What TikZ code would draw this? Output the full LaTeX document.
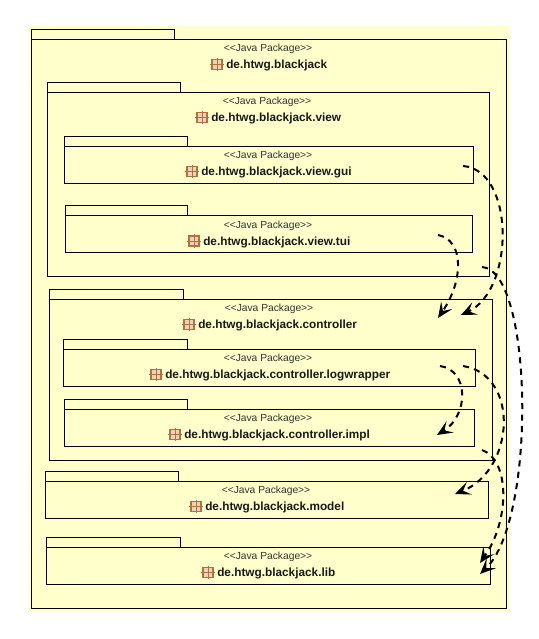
\documentclass[tikz,border=0pt]{standalone}
\usepackage{fontspec}
\setmainfont{Liberation Sans}
\usetikzlibrary{arrows.meta}
\definecolor{pkgyellow}{HTML}{FFFFCB}
\definecolor{iconfill}{HTML}{EAD2BC}
\definecolor{iconline}{HTML}{B5703C}
\tikzset{
  pkgbox/.style={draw=black,line width=0.75pt,inner sep=0pt,outer sep=0pt},
  pkgstereo/.style={inner sep=0pt,font=\fontsize{7.7}{9}\selectfont,text=black!80},
  pkglabel/.style={inner sep=0pt,anchor=mid west,font=\fontsize{8.85}{11}\selectfont\bfseries,text=black!90},
  pkgicon/.style={draw=iconline,line width=0.8pt,fill=iconfill,inner sep=0pt,minimum size=7.5pt},
  icongrid/.style={draw=iconline,line width=0.4pt,shorten >=-1pt,shorten <=-1pt},
  depends/.style={dashed,dash pattern=on 4.6pt off 4pt,line width=1.5pt,-{Stealth[inset=5pt,length=11.5pt,width=10pt]}}
}
\begin{document}
\begin{tikzpicture}[x=0.75pt,y=-0.75pt]
\useasboundingbox (0,0) rectangle (539,639);
\fill[pkgyellow] (28,26) rectangle (510,612);
\foreach \nm/\xa/\ya/\xb/\yb/\xt/\xs/\xl/\lab in {
  root/31/39/506.5/608/174/268/226/de.htwg.blackjack,
  view/47/92/489.5/276/180.5/267/211/de.htwg.blackjack.view,
  gui/64/146/473/183/187/268/201/de.htwg.blackjack.view.gui,
  tui/65.5/215.5/472.5/252/187/268/203/de.htwg.blackjack.view.tui,
  controller/49/299/492/460/183/269/198/de.htwg.blackjack.controller,
  logwrapper/63/349/475.5/386/187/268/165/de.htwg.blackjack.controller.logwrapper,
  impl/64/409/474.5/446/187.5/268/184/de.htwg.blackjack.controller.impl,
  model/45/481/488.5/518/178.5/266/205/de.htwg.blackjack.model,
  lib/46/547/490.5/584/180.5/268/217/de.htwg.blackjack.lib}
{
  \node[pkgbox,minimum width={(\xb-\xa)*0.75pt},minimum height={(\yb-\ya)*0.75pt}] (\nm) at ({(\xa+\xb)/2},{(\ya+\yb)/2}) {};
  \node[pkgbox,minimum width={(\xt-\xa)*0.75pt},minimum height=7.5pt] (\nm tab) at ({(\xa+\xt)/2},\ya-5) {};
  \node[pkgstereo] (\nm stereo) at (\xs,\ya+10) {<{}<Java Package>{}>};
  \node[pkglabel] (\nm label) at (\xl,\ya+26) {\lab};
  \node[pkgicon] (\nm icon) at (\xl-9,\ya+25.5) {};
  \draw[icongrid] (\nm icon.north) -- (\nm icon.south);
  \draw[icongrid] (\nm icon.west) -- (\nm icon.east);
}
% dependency ends
\coordinate (guiout) at (463,166);
\coordinate (tuiout) at (438,235);
\coordinate (viewout) at (482,267);
\coordinate (logout) at (463,366);
\coordinate (logimpl) at (440,366);
\coordinate (ctrlout) at (482,450);
\coordinate (ctrlin) at (438,318);
\coordinate (ctrlinb) at (461,315);
\coordinate (implin) at (437,435);
\coordinate (modelin) at (455,494);
\coordinate (libin) at (480,563);
\coordinate (libinb) at (480,574);
\draw[depends] (guiout) .. controls (515,170) and (515,290) .. (ctrlinb);
\draw[depends] (tuiout) .. controls (464,240) and (464,280) .. (ctrlin);
\draw[depends] (viewout) .. controls (533,270) and (537,520) .. (libinb);
\draw[depends] (logimpl) .. controls (469,370) and (469,415) .. (implin);
\draw[depends] (logout) .. controls (520,375) and (515,470) .. (modelin);
\draw[depends] (ctrlout) .. controls (510,460) and (510,520) .. (libin);
\end{tikzpicture}
\end{document}
